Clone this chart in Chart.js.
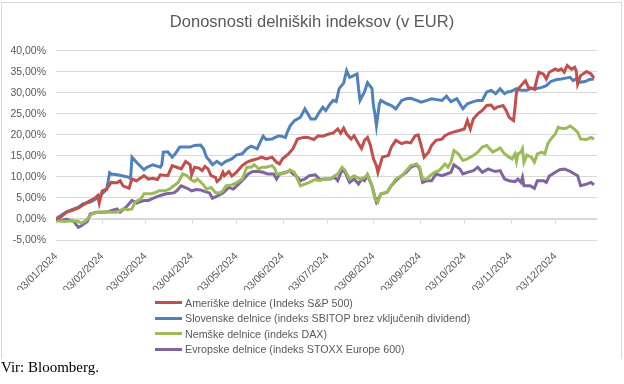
<!DOCTYPE html>
<html>
<head>
<meta charset="utf-8">
<script src="https://cdn.jsdelivr.net/npm/chart.js@4.4.1/dist/chart.umd.min.js"></script>
<style>
  body { margin: 0; background: #fff; }
  #wrap { position: relative; width: 624px; height: 384px; }
  #frame { position: absolute; left: 1px; top: 2px; width: 619px; height: 356px;
           border: 1px solid #d9d9d9; border-bottom: none; }
  #legend { position: absolute; left: 155px; top: 295px;
            font: 10.7px "Liberation Sans", Arial, sans-serif; color: #595959; }
  .item { display: flex; align-items: center; height: 15.5px; white-space: nowrap; }
  .swatch { width: 27px; height: 3px; margin-right: 3px; }
  #source { position: absolute; left: 1px; top: 359px; line-height: 15px;
            font: 15px "Liberation Serif", "Times New Roman", serif; color: #000; }
</style>
</head>
<body>
<div id="wrap">
  <div id="frame"></div>
  <canvas id="chart"></canvas>
  <div id="legend"></div>
  <div id="source">Vir: Bloomberg.</div>
</div>
<script>
// x values: days after 3 Jan 2024, y values: return in %
const tickDays = [0, 31, 60, 91, 121, 152, 182, 213, 244, 274, 305, 335];
const tickLabels = ['03/01/2024', '03/02/2024', '03/03/2024', '03/04/2024', '03/05/2024', '03/06/2024',
  '03/07/2024', '03/08/2024', '03/09/2024', '03/10/2024', '03/11/2024', '03/12/2024'];

const spDays = [0,3,7,12,16,18,23,26,28,29,31,34,37,41,43,45,49,51,54,59,62,65,68,70,75,78,81,84,87,90,91,93,96,98,100,102,104,107,108,110,112,113,116,118,121,125,128,131,135,138,141,145,148,150,152,156,159,162,166,169,173,176,179,183,186,189,191,193,195,198,200,203,205,207,209,211,213,215,216,217,219,223,225,228,232,235,238,241,243,245,247,250,252,255,259,261,263,266,270,274,276,278,280,283,286,289,292,294,296,300,302,304,307,308,309,311,313,315,317,319,321,323,324,327,329,331,335,337,339,341,343,346,348,349,350,352,356,359,361];
const spVals = [0,0.4,1.6,2.2,2.8,3.3,4.4,4.9,5.6,3.8,6.7,7.1,8.7,8.6,9.1,7.9,7.3,9.5,9.1,10.3,9.5,9.7,9.4,10.5,10.3,12.7,12.3,11.9,13.7,12.9,10.5,12.3,12.1,11.5,12.5,11.9,10.3,9.9,8.9,9.5,11.1,10.3,11.3,10.2,11.1,12.7,13.5,13.9,14.3,14.7,14.3,14.7,13.5,13.1,14.3,15.5,16.7,19.0,19.4,19.4,18.9,19.8,19.7,20.2,20.4,21.4,20.4,21.6,20.2,19.0,19.8,17.9,16.8,18.7,19.4,17.5,14.3,12.7,11.1,12.3,14.7,15.1,17.1,18.7,17.9,18.3,18.1,19.8,20.0,17.5,14.7,15.9,17.5,18.7,19.0,19.8,20.2,20.6,21.0,21.4,23.4,21.4,23.8,25.0,25.8,27.0,27.1,26.2,26.6,27.0,25.8,24.2,23.4,26.6,30.2,31.3,32.1,32.9,31.3,31.1,30.8,33.7,34.9,34.5,33.3,34.9,35.7,35.3,35.7,34.9,36.5,35.6,36.1,35.3,32.1,34.1,35.1,34.5,33.5];

const sbiDays = [0,3,7,12,15,18,23,27,31,34,36,37,41,45,49,50,51,54,59,61,65,70,71,72,75,78,80,83,87,90,93,97,99,101,103,105,108,111,114,118,121,125,128,131,135,137,139,141,145,147,150,154,155,157,160,164,167,169,171,174,176,179,181,184,186,188,190,193,195,197,199,202,203,204,207,209,212,213,214,215,217,218,222,225,228,232,235,238,242,245,249,252,255,259,262,265,269,271,273,276,280,283,286,289,292,295,298,301,303,305,309,312,316,319,322,326,329,332,336,339,342,345,347,349,351,355,358,361];
const sbiVals = [0,0.8,1.7,2.4,2.8,3.6,4.0,4.8,6.0,7.0,11.0,10.7,10.5,10.2,9.9,9.5,14.7,13.5,11.7,12.3,12.9,12.3,12.9,15.9,16.0,14.7,15.5,17.1,17.1,17.1,17.5,17.6,16.7,14.7,13.9,12.9,13.7,12.9,13.7,14.3,15.2,15.5,16.7,17.3,16.7,18.3,19.7,18.9,19.0,19.4,19.8,19.4,20.5,22.1,23.4,24.2,26.2,25.0,23.8,23.8,25.0,26.6,25.8,27.4,28.2,27.9,31.0,32.3,35.3,33.7,34.0,34.5,31.0,28.2,30.2,32.4,31.0,27.0,25.0,22.2,27.4,28.2,27.4,27.0,26.2,28.2,28.6,28.7,28.2,27.8,28.2,28.6,28.4,28.2,29.2,27.9,28.6,27.4,26.2,27.4,27.9,28.2,28.2,30.2,30.6,29.8,31.0,29.8,30.2,30.3,31.0,30.6,30.6,31.1,31.0,31.3,31.7,32.7,33.2,33.3,33.5,33.7,32.9,33.3,32.5,32.7,33.2,33.3];

const daxDays = [0,6,10,15,17,20,24,28,32,37,41,45,48,51,53,57,59,64,67,69,73,76,79,82,85,88,90,92,93,95,99,101,104,107,110,112,114,118,121,125,128,131,133,136,138,141,145,147,148,151,155,157,160,162,164,167,170,174,177,180,184,187,189,192,194,197,200,204,207,209,212,214,216,218,222,225,228,232,235,238,242,244,246,249,251,254,257,261,263,265,267,270,273,276,280,283,286,289,291,293,295,298,301,304,306,308,309,310,312,313,314,316,319,321,323,326,328,330,332,335,337,340,342,345,348,350,352,356,359,361];
const daxVals = [-0.4,-0.6,-0.4,-0.6,-1.0,-0.4,1.2,1.6,1.7,1.6,1.6,2.4,2.2,2.4,4.0,4.8,6.0,6.0,6.3,6.7,6.7,7.1,7.9,8.7,10.7,10.3,9.5,9.1,8.9,9.5,8.1,7.1,7.5,6.3,6.2,6.7,7.9,8.1,8.6,9.5,12.3,12.3,12.9,11.9,12.3,12.3,12.7,11.9,10.7,10.7,11.1,11.7,11.1,9.5,7.9,8.3,8.7,9.4,9.1,9.5,9.5,10.3,10.7,12.3,11.5,9.5,10.3,9.5,9.9,10.5,7.9,4.8,4.0,6.0,6.3,7.9,9.5,10.3,11.5,12.7,13.1,12.3,9.5,9.5,10.3,11.1,11.5,13.1,12.3,13.5,16.3,15.5,13.9,14.3,15.1,15.9,17.1,17.5,16.7,15.9,16.3,16.9,15.5,14.7,14.3,15.5,13.7,15.5,15.9,16.7,13.5,15.2,14.7,13.5,15.5,15.9,15.5,17.9,19.0,20.2,21.8,21.5,21.5,22.1,21.3,20.6,19.0,18.9,19.4,19.0];

const stoxxDays = [0,3,7,12,15,17,21,23,27,32,35,37,41,43,47,51,54,59,62,65,70,74,79,81,84,88,91,94,97,100,103,105,109,112,116,119,122,126,129,132,136,139,142,146,148,150,154,157,159,161,164,167,170,174,177,180,184,187,189,192,194,197,200,203,205,207,209,212,214,215,218,222,225,228,232,235,238,242,244,246,249,252,255,259,262,265,267,271,273,276,280,283,286,290,293,295,298,301,304,308,310,312,313,314,318,321,323,327,329,331,335,338,341,345,348,350,352,356,359,361];
const stoxxVals = [0,-0.4,0,-0.6,-2.0,-1.6,-0.6,1.2,1.6,1.6,1.7,2.0,2.4,1.6,2.8,4.4,3.8,4.4,4.4,4.9,5.6,6.0,6.2,6.7,7.9,7.3,6.7,7.0,6.9,6.5,6.2,4.9,5.6,6.2,7.5,7.1,8.1,9.5,10.7,11.3,11.3,11.1,10.7,10.7,9.5,10.7,11.1,11.5,10.7,10.3,9.1,9.5,10.3,10.5,9.4,9.5,9.5,9.9,9.1,11.7,11.1,8.7,9.5,8.3,9.5,9.1,10.5,7.9,5.2,4.0,6.0,6.3,7.9,9.1,10.3,11.1,12.3,12.9,11.9,8.7,9.1,9.1,10.7,10.3,10.7,11.1,12.9,11.9,10.7,11.1,11.5,12.3,11.1,11.9,11.5,11.3,11.5,9.5,9.1,8.9,9.5,8.7,9.9,7.9,7.9,7.3,9.1,9.1,8.7,10.2,11.1,11.7,11.9,11.3,10.7,10.3,7.9,8.3,8.7,8.1];

const seriesNames = [
  'Ameriške delnice (Indeks S&P 500)',
  'Slovenske delnice (indeks SBITOP brez vključenih dividend)',
  'Nemške delnice (indeks DAX)',
  'Evropske delnice (indeks STOXX Europe 600)'
];
const seriesColors = ['#c0504d', '#4f81bd', '#9bbb59', '#8064a2'];

const toPoints = (days, vals) => days.map((d, i) => ({ x: d, y: vals[i] }));
const allData = [
  toPoints(spDays, spVals),
  toPoints(sbiDays, sbiVals),
  toPoints(daxDays, daxVals),
  toPoints(stoxxDays, stoxxVals)
];

const textColor = '#595959';
const gridColor = '#d9d9d9';

// small tick marks hanging from the 0 % line, like the Excel axis
const zeroTicks = {
  id: 'zeroTicks',
  beforeDatasetsDraw(chart) {
    const { ctx, scales: { x, y } } = chart;
    const y0 = Math.round(y.getPixelForValue(0)) + 0.5;
    ctx.save();
    ctx.strokeStyle = gridColor;
    ctx.lineWidth = 1;
    ctx.beginPath();
    ctx.moveTo(x.left, y0);
    ctx.lineTo(x.right, y0);
    tickDays.forEach(d => {
      const px = Math.round(x.getPixelForValue(d)) + 0.5;
      ctx.moveTo(px, y0);
      ctx.lineTo(px, y0 + 4);
    });
    ctx.stroke();
    ctx.restore();
  }
};

const chart = new Chart(document.getElementById('chart'), {
  type: 'line',
  data: {
    datasets: allData.map((pts, i) => ({
      label: seriesNames[i],
      data: pts,
      borderColor: seriesColors[i],
      backgroundColor: seriesColors[i],
      borderWidth: 3,
      pointRadius: 0,
      tension: 0
    }))
  },
  options: {
    responsive: true,
    maintainAspectRatio: false,
    animation: false,
    layout: { padding: { left: 0, right: 0, top: 0, bottom: 94 } },
    plugins: {
      legend: { display: false },
      tooltip: { enabled: false },
      title: {
        display: true,
        text: 'Donosnosti delniških indeksov (v EUR)',
        color: textColor,
        font: { family: 'Liberation Sans', size: 16.5, weight: 'normal' },
        padding: { top: 13, bottom: 18 }
      }
    },
    scales: {
      x: {
        type: 'linear',
        min: 0,
        max: 363,
        grid: { display: false },
        border: { display: false },
        afterBuildTicks: s => { s.ticks = tickDays.map(v => ({ value: v })); },
        afterFit: s => { s.height = 50; },
        ticks: {
          autoSkip: false,
          minRotation: 45,
          maxRotation: 45,
          padding: 2,
          color: textColor,
          font: { family: 'Liberation Sans', size: 10.5 },
          callback: (v) => tickLabels[tickDays.indexOf(v)]
        }
      },
      y: {
        min: -5,
        max: 40,
        afterFit: s => { s.width = 56; },
        grid: { color: gridColor, drawTicks: false },
        border: { display: false },
        ticks: {
          stepSize: 5,
          padding: 10,
          color: textColor,
          font: { family: 'Liberation Sans', size: 10.5 },
          callback: v => v.toFixed(2).replace('.', ',') + '%'
        }
      },
      // empty right margin so the title centres on the whole chart
      spacer: {
        position: 'right',
        afterFit: s => { s.width = 27; },
        grid: { display: false },
        border: { display: false },
        ticks: { display: false }
      }
    }
  },
  plugins: [zeroTicks]
});

// legend, one entry per row
const legendBox = document.getElementById('legend');
chart.data.datasets.forEach(ds => {
  const row = document.createElement('div');
  row.className = 'item';
  const sw = document.createElement('span');
  sw.className = 'swatch';
  sw.style.background = ds.borderColor;
  const txt = document.createElement('span');
  txt.textContent = ds.label;
  row.appendChild(sw);
  row.appendChild(txt);
  legendBox.appendChild(row);
});
</script>
</body>
</html>
